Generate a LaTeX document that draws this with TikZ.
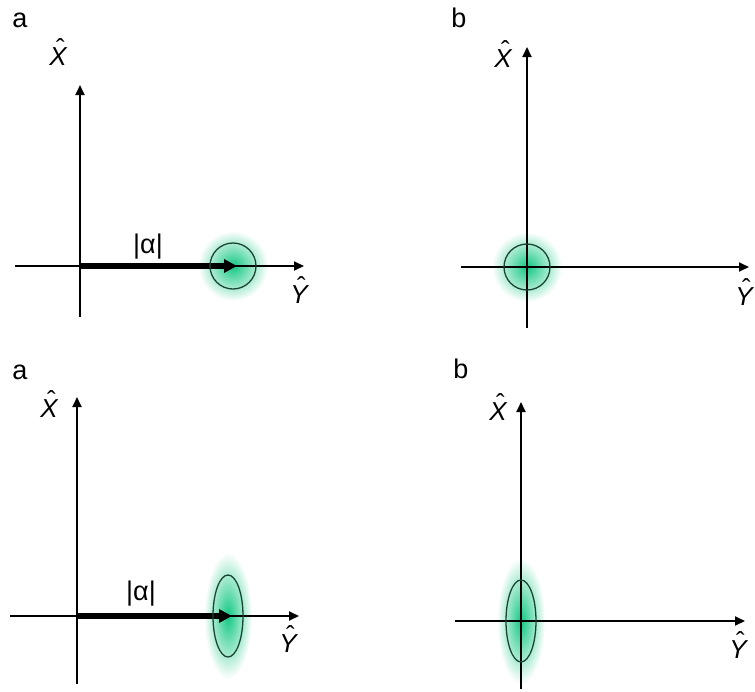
\documentclass[tikz,border=0pt]{standalone}
\usepackage{fontspec}
\setmainfont{Liberation Sans}
\usetikzlibrary{arrows.meta}
\definecolor{glow}{RGB}{20,200,130}
\definecolor{rim}{RGB}{25,70,50}
\newcommand{\hatletter}[1]{\ooalign{#1\cr\hidewidth\kern0.18em\raisebox{0.28em}{\upshape ˆ}\hidewidth\cr}}
\tikzset{
  axis/.style={line width=1.8pt,-{Triangle[length=10pt,width=9pt]}},
  amp/.style={line width=5.5pt,-{Triangle[length=13pt,width=13pt]}},
  panel/.style={font=\fontsize{27}{31}\selectfont,anchor=base,inner sep=0pt},
  lbl/.style={font=\fontsize{26}{30}\selectfont\itshape,anchor=base,inner sep=0pt},
  alab/.style={font=\fontsize{27}{31}\selectfont,anchor=base,inner sep=0pt},
  outline/.style={draw=rim,line width=1.3pt},
  halo/.style={inner color=glow,outer color=white}
}
\begin{document}
\begin{tikzpicture}[x=1pt,y=-1pt]
\useasboundingbox (0,0) rectangle (755,691);
% ---------- panel 1 (top-left) ----------
\coordinate (o1) at (80,266);
\coordinate (c1) at (233,266);
\shade[halo] (c1) circle [radius=35];
\coordinate (v1s) at (80,317); \coordinate (v1e) at (80,85);
\coordinate (h1s) at (15,266); \coordinate (h1e) at (304,266);
\draw[axis] (v1s) -- (v1e);
\draw[axis] (h1s) -- (h1e);
\coordinate (t1) at (237,266);
\draw[amp] (o1) -- (t1);
\draw[outline] (c1) circle [radius=23];
\node[panel] (la1) at (20,27) {a};
\node[lbl] (x1) at (58,65) {\hatletter{X}};
\node[lbl] (y1) at (299,303) {\hatletter{Y}};
\node[alab] (al1) at (148,253) {|α|};
% ---------- panel 2 (top-right) ----------
\coordinate (c2) at (527,267);
\shade[halo] (c2) circle [radius=35];
\coordinate (v2s) at (527,328); \coordinate (v2e) at (527,47);
\coordinate (h2s) at (461,267); \coordinate (h2e) at (749,267);
\draw[axis] (v2s) -- (v2e);
\draw[axis] (h2s) -- (h2e);
\draw[outline] (c2) circle [radius=23];
\node[panel] (lb2) at (459,27) {b};
\node[lbl] (x2) at (503,67) {\hatletter{X}};
\node[lbl] (y2) at (744,305) {\hatletter{Y}};
% ---------- panel 3 (bottom-left) ----------
\coordinate (o3) at (77,616);
\coordinate (c3) at (228,616);
\shade[halo] (c3) ellipse [x radius=24,y radius=63];
\coordinate (v3s) at (77,684); \coordinate (v3e) at (77,397);
\coordinate (h3s) at (10,616); \coordinate (h3e) at (299,616);
\draw[axis] (v3s) -- (v3e);
\draw[axis] (h3s) -- (h3e);
\coordinate (t3) at (232,616);
\draw[amp] (o3) -- (t3);
\draw[outline] (c3) ellipse [x radius=15,y radius=41];
\node[panel] (la3) at (20,379) {a};
\node[lbl] (x3) at (49,417) {\hatletter{X}};
\node[lbl] (y3) at (288,652) {\hatletter{Y}};
\node[alab] (al3) at (141,600) {|α|};
% ---------- panel 4 (bottom-right) ----------
\coordinate (c4) at (521,621);
\shade[halo] (c4) ellipse [x radius=24,y radius=63];
\coordinate (v4s) at (521,689); \coordinate (v4e) at (521,402);
\coordinate (h4s) at (455,621); \coordinate (h4e) at (745,621);
\draw[axis] (v4s) -- (v4e);
\draw[axis] (h4s) -- (h4e);
\draw[outline] (c4) ellipse [x radius=15,y radius=41];
\node[panel] (lb4) at (461,378) {b};
\node[lbl] (x4) at (498,420) {\hatletter{X}};
\node[lbl] (y4) at (738,658) {\hatletter{Y}};
\end{tikzpicture}
\end{document}
